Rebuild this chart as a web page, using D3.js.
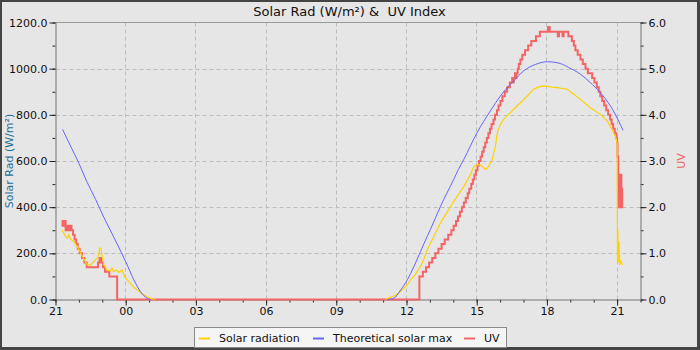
<!DOCTYPE html>
<html>
<head>
<meta charset="utf-8">
<script src="https://cdn.jsdelivr.net/npm/d3@7/dist/d3.min.js"></script>
<style>
  html, body { margin: 0; padding: 0; background: #e6e6e6; }
  svg { display: block; font-family: "DejaVu Sans", sans-serif; }
</style>
</head>
<body>
<svg id="chart" width="700" height="350"></svg>
<script>
(function () {
  "use strict";

  // readings as [time, value]; times roll over to the next day after midnight
  const solarRadiation = [
    ["21:16", 302], ["21:21", 288], ["21:26", 273], ["21:30", 266], ["21:34", 280], ["21:40", 259],
    ["21:47", 251], ["21:56", 230], ["22:04", 203], ["22:13", 175], ["22:21", 150], ["22:30", 150],
    ["22:38", 164], ["22:47", 179], ["22:51", 193], ["22:53", 223], ["22:56", 223], ["23:00", 186],
    ["23:04", 150], ["23:13", 125], ["23:21", 125], ["23:25", 136], ["23:29", 121], ["23:36", 128],
    ["23:42", 117], ["23:51", 128], ["23:57", 99], ["00:04", 85], ["00:12", 70], ["00:21", 53],
    ["00:30", 41], ["00:38", 30], ["00:46", 20], ["00:55", 12], ["01:04", 5], ["01:12", 1], ["01:16", 0],
    ["06:00", null],
    ["11:06", 0], ["11:11", 5], ["11:27", 15], ["11:40", 27], ["11:53", 49], ["12:02", 63], ["12:10", 85],
    ["12:19", 99], ["12:27", 121], ["12:36", 143], ["12:44", 172], ["12:53", 215], ["13:10", 273],
    ["13:27", 331], ["13:53", 403], ["14:10", 447], ["14:27", 490], ["14:44", 541], ["14:53", 577],
    ["15:05", 585], ["15:15", 575], ["15:23", 563], ["15:31", 577], ["15:40", 607], ["15:48", 664],
    ["15:53", 723], ["16:01", 759], ["16:09", 780], ["16:22", 802], ["16:35", 824], ["16:48", 846],
    ["17:01", 867], ["17:14", 889], ["17:26", 911], ["17:39", 921], ["17:52", 925], ["18:09", 921],
    ["18:26", 918], ["18:52", 911], ["19:09", 889], ["19:26", 867], ["19:51", 831], ["20:17", 802],
    ["20:35", 773], ["20:47", 737], ["20:56", 705], ["20:58", 693], ["21:00", 680], ["21:01", 157],
    ["21:02", 300], ["21:03", 160], ["21:05", 250], ["21:07", 150], ["21:10", 165], ["21:14", 150]
  ];

  const theoreticalMax = [
    ["21:18", 737], ["21:40", 660], ["22:00", 590], ["22:20", 512], ["22:43", 433], ["23:00", 370],
    ["23:20", 302], ["23:37", 244], ["00:00", 164], ["00:21", 85], ["00:38", 34], ["00:55", 5], ["01:04", 0],
    ["06:00", null],
    ["11:11", 0], ["11:27", 5], ["11:45", 41], ["12:02", 85], ["12:19", 143], ["12:36", 208], ["12:53", 273],
    ["13:01", 302], ["13:27", 403], ["14:01", 520], ["14:13", 563], ["14:27", 607], ["15:01", 723],
    ["15:35", 817], ["16:00", 880], ["16:35", 947], ["17:00", 990], ["17:30", 1018], ["18:01", 1030],
    ["18:35", 1022], ["18:56", 1005], ["19:26", 976], ["19:51", 940], ["20:17", 896], ["20:43", 838],
    ["21:04", 773], ["21:15", 733]
  ];

  const uvIndex = [
    ["21:16", 1.7], ["21:18", 1.6], ["21:19", 1.7], ["21:22", 1.6], ["21:24", 1.7], ["21:26", 1.5],
    ["21:30", 1.6], ["21:34", 1.5], ["21:37", 1.6], ["21:41", 1.5], ["21:45", 1.4], ["21:49", 1.3],
    ["21:53", 1.2], ["21:57", 1.1], ["22:02", 1.0], ["22:08", 0.9], ["22:14", 0.8], ["22:20", 0.7],
    ["22:49", 0.8], ["22:53", 0.9], ["22:58", 0.8], ["23:02", 0.7], ["23:07", 0.6], ["23:18", 0.5],
    ["23:38", 0.0],
    ["12:33", 0.5], ["12:42", 0.6], ["12:50", 0.7], ["12:58", 0.8], ["13:06", 0.9], ["13:14", 1.0],
    ["13:22", 1.1], ["13:30", 1.2], ["13:38", 1.3], ["13:47", 1.4], ["13:55", 1.5], ["14:01", 1.6],
    ["14:07", 1.7], ["14:12", 1.8], ["14:17", 1.9], ["14:22", 2.0], ["14:27", 2.1], ["14:32", 2.2],
    ["14:37", 2.3], ["14:41", 2.4], ["14:46", 2.5], ["14:50", 2.6], ["14:54", 2.7], ["14:58", 2.8],
    ["15:02", 2.9], ["15:06", 3.0], ["15:10", 3.1], ["15:14", 3.2], ["15:18", 3.3], ["15:22", 3.4],
    ["15:26", 3.5], ["15:30", 3.6], ["15:34", 3.7], ["15:38", 3.8], ["15:43", 3.9], ["15:47", 4.0],
    ["15:52", 4.1], ["15:56", 4.2], ["16:01", 4.3], ["16:06", 4.4], ["16:12", 4.5], ["16:18", 4.6],
    ["16:25", 4.7], ["16:31", 4.8], ["16:33", 4.7], ["16:35", 4.8], ["16:38", 4.9], ["16:40", 4.8],
    ["16:42", 4.9], ["16:45", 5.0], ["16:48", 5.1], ["16:52", 5.2], ["16:57", 5.3], ["17:04", 5.4],
    ["17:12", 5.5], ["17:20", 5.6], ["17:32", 5.7], ["17:42", 5.8], ["18:03", 5.9], ["18:07", 5.8],
    ["18:28", 5.7], ["18:31", 5.8], ["18:40", 5.7], ["18:43", 5.8], ["18:55", 5.7], ["19:04", 5.6],
    ["19:09", 5.5], ["19:13", 5.4], ["19:19", 5.3], ["19:26", 5.2], ["19:32", 5.1], ["19:39", 5.0],
    ["19:45", 4.9], ["19:56", 4.8], ["20:02", 4.7], ["20:08", 4.6], ["20:13", 4.5], ["20:17", 4.4],
    ["20:22", 4.3], ["20:27", 4.2], ["20:32", 4.1], ["20:37", 4.0], ["20:42", 3.9], ["20:46", 3.8],
    ["20:50", 3.7], ["20:54", 3.6], ["20:58", 3.5], ["21:00", 3.4], ["21:01", 3.1], ["21:03", 2.0],
    ["21:08", 2.7], ["21:11", 2.4], ["21:13", 2.0], ["21:15", 2.0]
  ];

  const startTime = "21:00";
  const endTime = "22:00";
  const radTicks = [0, 200, 400, 600, 800, 1000, 1200];
  const uvTicks = [0, 1, 2, 3, 4, 5, 6];
  const seriesNames = ["Solar radiation", "Theoretical solar max", "UV"];
  const seriesColors = ["#ffd200", "#6464ff", "#f46464"];

  const svg = d3.select("#chart");
  const W = 700, H = 350;
  const left = 55.5, right = 640.5, top = 22.5, bottom = 299.5;

  function toSeries(rows) {
    let day = 0, prev = -1;
    return rows.map(([t, v]) => {
      const [h, m] = t.split(":").map(Number);
      const mins = h * 60 + m;
      if (mins < prev) day += 1;
      prev = mins;
      return { date: new Date(2024, 5, 1 + day, h, m), value: v };
    });
  }
  const [sh, sm] = startTime.split(":").map(Number);
  const [eh, em] = endTime.split(":").map(Number);
  const t0 = new Date(2024, 5, 1, sh, sm);
  const t1 = new Date(2024, 5, 2, eh, em);

  const x = d3.scaleTime().domain([t0, t1]).range([left, right]);
  const yRad = d3.scaleLinear().domain([0, 1200]).range([bottom, top]);
  const yUv = d3.scaleLinear().domain([0, 6]).range([bottom, top]);

  // background + frame
  svg.append("rect").attr("width", W).attr("height", H).attr("fill", "#444");
  svg.append("rect").attr("x", 2).attr("y", 2).attr("width", W - 5).attr("height", H - 5).attr("fill", "#e6e6e6");

  // grid
  const grid = svg.append("g").attr("stroke", "#bdbdbd").attr("stroke-dasharray", "4,3").attr("stroke-width", 1);
  grid.selectAll("line.h").data(radTicks.slice(1, -1)).join("line")
    .attr("x1", left).attr("x2", right)
    .attr("y1", (d) => Math.round(yRad(d)) + 0.5).attr("y2", (d) => Math.round(yRad(d)) + 0.5);
  grid.selectAll("line.v").data(d3.timeHour.every(3).range(d3.timeHour.offset(t0, 1), t1)).join("line")
    .attr("y1", top).attr("y2", bottom)
    .attr("x1", (d) => Math.round(x(d) - 0.5) + 0.5).attr("x2", (d) => Math.round(x(d) - 0.5) + 0.5);

  // top border
  svg.append("line").attr("x1", left).attr("x2", right).attr("y1", top).attr("y2", top).attr("stroke", "#999");

  function styleAxis(g) {
    g.select(".domain").attr("stroke", "#999");
    g.selectAll(".tick line").attr("stroke", "#222");
    g.selectAll(".tick text").attr("fill", "#111").attr("font-size", 11).attr("font-family", "DejaVu Sans");
  }

  // left axis
  svg.append("g").attr("transform", `translate(${left},0)`)
    .call(d3.axisLeft(yRad).tickValues(d3.range(0, 1201, 100)).tickSize(3).tickSizeOuter(0).tickFormat(""))
    .call(styleAxis);
  svg.append("g").attr("transform", `translate(${left},0)`)
    .call(d3.axisLeft(yRad).tickValues(radTicks).tickSize(6).tickSizeOuter(0).tickPadding(2).tickFormat(d3.format(".1f")))
    .call(styleAxis);

  // right axis
  svg.append("g").attr("transform", `translate(${right},0)`)
    .call(d3.axisRight(yUv).tickValues(d3.range(0, 6.01, 0.5)).tickSize(3).tickSizeOuter(0).tickFormat(""))
    .call(styleAxis);
  svg.append("g").attr("transform", `translate(${right},0)`)
    .call(d3.axisRight(yUv).tickValues(uvTicks).tickSize(6).tickSizeOuter(0).tickPadding(2).tickFormat(d3.format(".1f")))
    .call(styleAxis);

  // bottom axis
  svg.append("g").attr("transform", `translate(0,${bottom})`)
    .call(d3.axisBottom(x).ticks(d3.timeHour.every(1)).tickSize(3).tickSizeOuter(0).tickFormat(""))
    .call(styleAxis);
  svg.append("g").attr("transform", `translate(0,${bottom})`)
    .call(d3.axisBottom(x).ticks(d3.timeHour.every(3)).tickSize(6).tickSizeOuter(0).tickPadding(2).tickFormat(d3.timeFormat("%H")))
    .call(styleAxis);

  // series
  const solar = toSeries(solarRadiation);
  const theo = toSeries(theoreticalMax);
  const uv = toSeries(uvIndex);

  const uvLine = d3.line().curve(d3.curveStepAfter)
    .x((d) => x(d.date)).y((d) => yUv(d.value));
  const radLine = d3.line().defined((d) => d.value != null)
    .x((d) => x(d.date)).y((d) => yRad(d.value));
  const theoLine = d3.line().defined((d) => d.value != null).curve(d3.curveMonotoneX)
    .x((d) => x(d.date)).y((d) => yRad(d.value));

  svg.append("path").datum(uv).attr("d", uvLine)
    .attr("fill", "none").attr("stroke", seriesColors[2]).attr("stroke-width", 2);
  svg.append("path").datum(solar).attr("d", radLine)
    .attr("fill", "none").attr("stroke", seriesColors[0]).attr("stroke-width", 1.2);
  svg.append("path").datum(theo).attr("d", theoLine)
    .attr("fill", "none").attr("stroke", seriesColors[1]).attr("stroke-width", 1);

  // titles
  svg.append("text").attr("x", 349.5).attr("y", 15.5).attr("text-anchor", "middle")
    .attr("font-size", 13).attr("fill", "#111").style("white-space", "pre")
    .text("Solar Rad (W/m²) &  UV Index");
  svg.append("text").attr("transform", `translate(13,${(top + bottom) / 2}) rotate(-90)`)
    .attr("text-anchor", "middle").attr("font-size", 11).attr("fill", "#1f6f9c")
    .text("Solar Rad (W/m²)");
  svg.append("text").attr("transform", `translate(685,${(top + bottom) / 2}) rotate(-90)`)
    .attr("text-anchor", "middle").attr("font-size", 11).attr("fill", "#f06060")
    .text("UV");

  // legend
  const legend = svg.append("g");
  legend.append("rect").attr("x", 194.5).attr("y", 327.5).attr("width", 312).attr("height", 20)
    .attr("fill", "#f5f5f5").attr("stroke", "#8a8a8a");
  const legendX = [199, 313, 464];
  seriesNames.forEach((name, i) => {
    legend.append("line").attr("x1", legendX[i]).attr("x2", legendX[i] + 11)
      .attr("y1", 338.5).attr("y2", 338.5).attr("stroke", seriesColors[i]).attr("stroke-width", 2);
    legend.append("text").attr("x", legendX[i] + 20).attr("y", 341.5)
      .attr("font-size", 11).attr("fill", "#111").text(name);
  });
})();
</script>
</body>
</html>
